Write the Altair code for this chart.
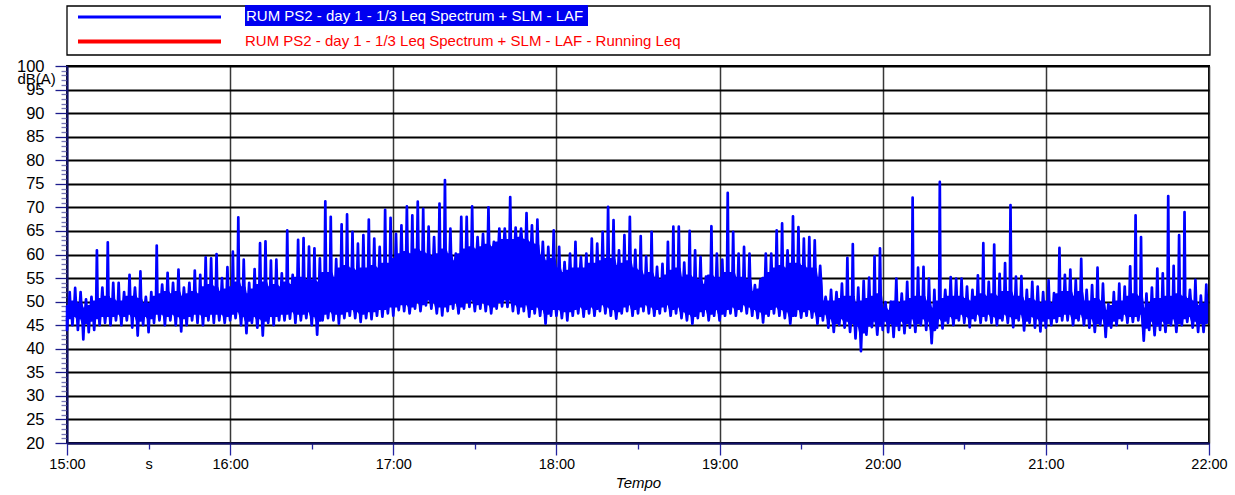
import altair as alt
import pandas as pd

# LAF level, 15:00-22:00, read in 2-minute bins:
#   floor = lowest dip, base = bottom of the solid band,
#   body  = top of the solid band, peak = highest spike
BIN_MINUTES = 2

laf_floor = [
    44, 45, 44, 42, 43.5, 44, 45, 45.5, 45, 46, 45, 46, 44.5, 42.8, 45, 43.5, 45.5, 46, 45, 46,
    45, 43.7, 45, 46, 45.5, 45, 46, 45.5, 46, 45.5,
    46, 46.5, 45, 43.3, 45.5, 44.5, 42.8, 45.5, 45, 46, 46, 46.4, 45.5, 46, 46.5, 45, 43, 46, 46.5, 46,
    45.3, 46.5, 47, 46.5, 45.7, 46.5, 46.3, 47, 46.8, 47.5,
    47, 48.2, 48, 47.5, 48.5, 48, 49.2, 48.5, 47.5, 47.1, 48, 48.5, 47.5, 48.5, 48.9, 48, 48.5, 48, 47.5, 48.5,
    49, 48.9, 48, 47.5, 48, 46.8, 47.5, 47, 45.3, 47,
    47, 46.5, 46, 47, 47.5, 46.8, 47.5, 47, 48, 47.5, 47, 46.4, 47.5, 48, 47, 47.5, 48, 47.5, 47, 47.5,
    48, 47, 47.5, 46.5, 46, 45.3, 46.5, 47, 46, 47,
    46, 47, 47.5, 47, 48, 47.5, 47, 46.5, 45.6, 47, 47.5, 47, 46.5, 45.3, 47, 46.6, 47, 46.6, 45.3, 46,
    44.5, 43.6, 45, 44.5, 43.6, 42.2, 39.5, 43, 44.6, 43,
    44, 43.5, 42.5, 44, 43.3, 44.5, 43.6, 45, 44, 41.2, 44.5, 44.3, 45.5, 45, 46, 45.5, 44.6, 46, 45.5, 46,
    45.5, 45, 46, 45.5, 44.6, 46, 43.9, 45.5, 44.5, 43.7,
    44.5, 45, 45.7, 46, 46, 45, 46, 45, 44.5, 43.6, 45, 42.5, 44.5, 45, 46, 45.5, 45.7, 46, 41.7, 44,
    42.9, 44, 43.6, 45, 43.6, 45, 45.7, 44.5, 43.6, 43.6,
]

laf_base = [
    46.5, 47, 46.5, 45.5, 46, 46.5, 47, 47, 47, 47.5, 47, 47.5, 47, 46, 47, 46.5, 47.5, 47.5, 47, 47.5,
    47, 46.5, 47, 47.5, 47.5, 47, 47.5, 47.5, 47.5, 47,
    47.5, 48, 47, 46, 47, 46.5, 46, 47, 47, 47.5, 47.5, 48, 47.5, 47.5, 48, 47, 46, 47.5, 48, 47.5,
    47.5, 48, 48.5, 48, 47.5, 48, 48, 48.5, 48.5, 49,
    49, 49.5, 49.5, 49, 50, 49.5, 50.5, 50, 49, 49, 49.5, 50, 49, 50, 50.5, 49.5, 50, 49.5, 49, 50,
    50.5, 50.5, 49.5, 49, 49.5, 48.5, 49, 48.5, 47.5, 48.5,
    48.5, 48, 48, 48.5, 49, 48.5, 49, 48.5, 49.5, 49, 48.5, 48, 49, 49.5, 48.5, 49, 49.5, 49, 48.5, 49,
    49.5, 48.5, 49, 48, 47.5, 47, 48, 48.5, 47.5, 48.5,
    47.5, 48.5, 49, 48.5, 49.5, 49, 48.5, 48, 47.5, 48.5, 49, 48.5, 48, 47, 48.5, 48, 48.5, 48, 47, 47.5,
    46.5, 45.5, 46.5, 46, 45.5, 45, 43.5, 45, 46, 45,
    46, 45.5, 45, 46, 45.5, 46.5, 45.5, 46.5, 46, 44, 46.5, 46, 47, 46.5, 47.5, 47, 46.5, 47.5, 47, 47.5,
    47, 46.5, 47.5, 47, 46.5, 47.5, 46, 47, 46.5, 46,
    46.5, 46.5, 47, 47.5, 47.5, 46.5, 47.5, 46.5, 46.5, 45.5, 46.5, 45, 46, 46.5, 47.5, 47, 47, 47.5, 44.5, 46,
    45, 46, 45.5, 46.5, 45.5, 46.5, 47, 46, 45.5, 45.5,
]

laf_body = [
    49, 50, 49.5, 48.5, 49, 50, 50.5, 51, 50.5, 50, 50, 51, 51, 50.5, 49.5, 49.5, 51, 51.5, 52, 51.5,
    52, 51, 51.5, 52, 51.5, 53, 53.5, 53, 52, 52.5,
    53, 54, 53, 51.5, 52.5, 53.5, 54, 53, 53.5, 53, 54, 53.5, 55, 55, 54.5, 54.5, 54, 56, 56, 55,
    57, 57.5, 57, 56.5, 57, 57, 57.5, 57, 58, 58,
    59, 60, 60.5, 60, 61, 60.5, 60, 59.5, 60, 61, 60, 58.5, 60, 61, 61.5, 61, 61.5, 62, 61.5, 62.5,
    63, 63, 63, 63.5, 63, 62.5, 62, 59.5, 58.5, 59,
    57, 56, 56.5, 57, 57, 57, 58, 58, 58.5, 59, 59, 57.5, 58, 58.5, 57, 56.5, 55.5, 56, 55, 54.5,
    55.5, 56.5, 57, 55, 55.5, 55, 54.5, 53.5, 55.5, 55,
    55, 56, 56, 55, 55, 54.5, 52, 52.5, 55, 56, 57, 57.5, 57, 58, 58, 57.5, 57, 57, 55, 50,
    50, 50, 50.5, 51, 51, 49.5, 50, 50.5, 51, 51.5,
    48.5, 48, 50, 49.5, 50, 50.5, 51, 51, 50, 48.5, 50, 50.5, 51, 51, 51, 50.5, 50, 51, 51.5, 51,
    51.5, 51, 52, 52, 51, 51, 50, 50.5, 50, 49.5,
    50, 49.5, 51.5, 52, 52, 51, 52, 50, 50, 50.5, 50, 48, 49, 50, 50, 51, 51.5, 51, 48.5, 49.5,
    50.5, 50.5, 51, 51, 51.5, 51, 50.5, 50, 49, 49.5,
]

laf_peak = [
    52, 52.9, 52, 50.5, 51, 60.9, 53, 62.6, 54, 54, 52, 55.7, 53, 56.4, 51, 52, 61.9, 53.6, 56.1, 54,
    56.8, 53, 54, 56.6, 55.7, 59.4, 59.2, 60.1, 55, 57.3,
    60.6, 67.9, 58.9, 54, 56.9, 62.4, 62.8, 58.7, 58.9, 56, 65.1, 55.7, 63.1, 63.5, 61.7, 61.3, 59.2, 71.3, 68, 59,
    66.4, 68.5, 64.8, 62.3, 64.1, 67.4, 63.4, 61.6, 69.5, 67.8,
    64.4, 66.2, 70.2, 68.3, 71.2, 69.7, 65.9, 63.7, 70.8, 75.8, 65.5, 60.2, 68, 68, 70.2, 63.7, 64.4, 70, 62.7, 65.5,
    65.5, 72.2, 65.7, 65.5, 68.8, 66.2, 67.4, 62.7, 61.6, 65.1,
    61.6, 58.4, 60.2, 62.7, 59.5, 60.2, 63.4, 62.3, 64.8, 70.1, 67.3, 60.9, 64.1, 68, 61, 63.9, 59.6, 64.8, 57.4, 58,
    62.7, 65.9, 65.9, 58.3, 65, 60.9, 59.5, 55.3, 66, 60.2,
    58.9, 73.1, 64.8, 60.2, 61.6, 60.2, 53.5, 54.6, 60.2, 60.2, 65.1, 66.6, 60.9, 68.1, 65.8, 63.4, 63.7, 63, 57.6, 51,
    52.5, 52, 53.8, 59.3, 62.2, 53, 54.4, 55.1, 59.6, 61.3,
    49.9, 50, 54.9, 51.7, 54.2, 72.1, 57.2, 57.4, 54.9, 52.5, 75.4, 52.5, 55.2, 54.9, 54.9, 53.2, 52.5, 55.6, 62.4, 54.2,
    62.1, 55.9, 58.2, 70.5, 55.3, 55.4, 52.5, 54.2, 53.2, 52,
    54.5, 51.8, 61.4, 55.7, 56.8, 54.6, 59.1, 52.5, 53.5, 57.2, 53.8, 49.5, 52, 53.8, 53.2, 57.5, 68.3, 63.7, 51.7, 53,
    57, 56, 72.4, 57.6, 64.1, 69, 52.5, 54.6, 51.3, 53.6,
]

legend_labels = [
    "RUM PS2 - day 1 - 1/3 Leq Spectrum + SLM - LAF",
    "RUM PS2 - day 1 - 1/3 Leq Spectrum + SLM - LAF - Running Leq",
]
legend_colors = ["#0000ff", "#ff0000"]

FIRST_HOUR = 15
SPAN_MINUTES = 420
minute_ticks = list(range(0, SPAN_MINUTES + 1, 30))
db_ticks = list(range(20, 101))

# Each bin: a dip to the floor at its start and a spike to the peak at its
# centre, both rising out of the solid band between base and body.
rows = []
for k, (lo, base, body, peak) in enumerate(zip(laf_floor, laf_base, laf_body, laf_peak)):
    start = BIN_MINUTES * k
    for dt, trace_db in ((-0.25, base), (0.0, lo), (0.25, base),
                         (0.75, body), (1.0, peak), (1.25, body)):
        minute = min(max(start + dt, 0), SPAN_MINUTES)
        rows.append({"minute": minute, "trace": trace_db, "base": base, "body": body})
series = pd.DataFrame(rows)

FONT = "Liberation Sans"
W, H = 1142, 377

x_scale = alt.Scale(domain=[0, SPAN_MINUTES], nice=False, zero=False)
y_scale = alt.Scale(domain=[20, 100], nice=False, zero=False)

hour_test = "datum.value % 60 == 0"
x_axis = alt.Axis(
    values=minute_ticks,
    labelExpr=f"{hour_test} ? ({FIRST_HOUR} + datum.value / 60) + ':00' : (datum.value == 30 ? 's' : '')",
    labelFont=FONT, labelFontSize=14.5, labelColor="#000", labelOverlap=False, labelFlush=False,
    labelPadding={"condition": {"test": hour_test, "value": 2}, "value": 8},
    tickSize={"condition": {"test": hour_test, "value": 12}, "value": 6},
    tickColor="#2424a0", tickWidth=1.3,
    domainColor="#10106a", domainWidth=2,
    grid=True, gridColor="#383838", gridWidth=1.5,
    gridOpacity={"condition": {"test": hour_test, "value": 1}, "value": 0},
    titleFont=FONT, titleFontSize=15, titleFontStyle="italic",
    titleFontWeight="normal", titleColor="#000", titleX=W / 2, titleY=39,
    titleBaseline="middle",
)

major_db = "datum.value % 5 == 0"
y_axis = alt.Axis(
    values=db_ticks,
    labelExpr=f"{major_db} ? datum.label : ''",
    labelFont=FONT, labelFontSize=16.5, labelColor="#000", labelPadding=11, labelOverlap=False,
    labelFlush=False,
    tickSize={"condition": {"test": major_db, "value": 12}, "value": 6},
    tickColor={"condition": {"test": major_db, "value": "#1c1c8c"}, "value": "#7676b6"},
    tickWidth=1.3,
    domainColor="#10106a", domainWidth=2,
    grid=True, gridColor="#000", gridWidth=2,
    gridOpacity={"condition": {"test": major_db, "value": 1}, "value": 0},
    titleFont=FONT, titleFontSize=15, titleFontWeight="normal", titleColor="#000",
    titleAngle=0, titleAlign="left", titleBaseline="middle", titleX=-50, titleY=12,
)

x_enc = alt.X("minute:Q", scale=x_scale, axis=x_axis, title="Tempo")

band = alt.Chart(series).mark_area(
    color="#0000ff", stroke="#0000ff", strokeWidth=2.5, strokeJoin="round"
).encode(
    x=x_enc,
    y=alt.Y("base:Q", scale=y_scale, axis=y_axis, title="dB(A)"),
    y2="body:Q",
)

trace = alt.Chart(series).mark_line(
    color="#0000ff", strokeWidth=2.7, strokeJoin="round"
).encode(
    x=x_enc,
    y=alt.Y("trace:Q", scale=y_scale, axis=y_axis, title="dB(A)"),
)

# legend panel above the plot
legend_df = pd.DataFrame({"label": legend_labels, "color": legend_colors})
first = legend_df.iloc[[0]]
second = legend_df.iloc[[1]]

box = alt.Chart(first).mark_rect(fill="#ffffff", stroke="#000", strokeWidth=1.3).encode(
    x=alt.value(0), x2=alt.value(1143), y=alt.value(-60), y2=alt.value(-11)
)
swatch1 = alt.Chart(first).mark_rule(strokeWidth=3).encode(
    x=alt.value(11), x2=alt.value(154), y=alt.value(-49),
    color=alt.Color("color:N", scale=None),
)
swatch2 = alt.Chart(second).mark_rule(strokeWidth=4).encode(
    x=alt.value(11), x2=alt.value(154), y=alt.value(-24.5),
    color=alt.Color("color:N", scale=None),
)
highlight = alt.Chart(first).mark_rect(fill="#0000f0").encode(
    x=alt.value(178), x2=alt.value(521), y=alt.value(-61), y2=alt.value(-40)
)
label1 = alt.Chart(first).mark_text(
    align="left", baseline="middle", font=FONT, fontSize=15, color="#ffffff"
).encode(x=alt.value(179), y=alt.value(-50), text="label:N")
label2 = alt.Chart(second).mark_text(
    align="left", baseline="middle", font=FONT, fontSize=15
).encode(
    x=alt.value(178), y=alt.value(-25), text="label:N",
    color=alt.Color("color:N", scale=None),
)

chart = alt.layer(
    band, trace, box, swatch1, swatch2, highlight, label1, label2
).properties(
    width=W, height=H,
    autosize=alt.AutoSizeParams(type="none"),
    padding={"left": 67, "top": 66, "right": 26, "bottom": 52},
).configure_view(stroke="#000", strokeWidth=2)

chart.save("out.html", embed_options={"renderer": "svg", "actions": False})
